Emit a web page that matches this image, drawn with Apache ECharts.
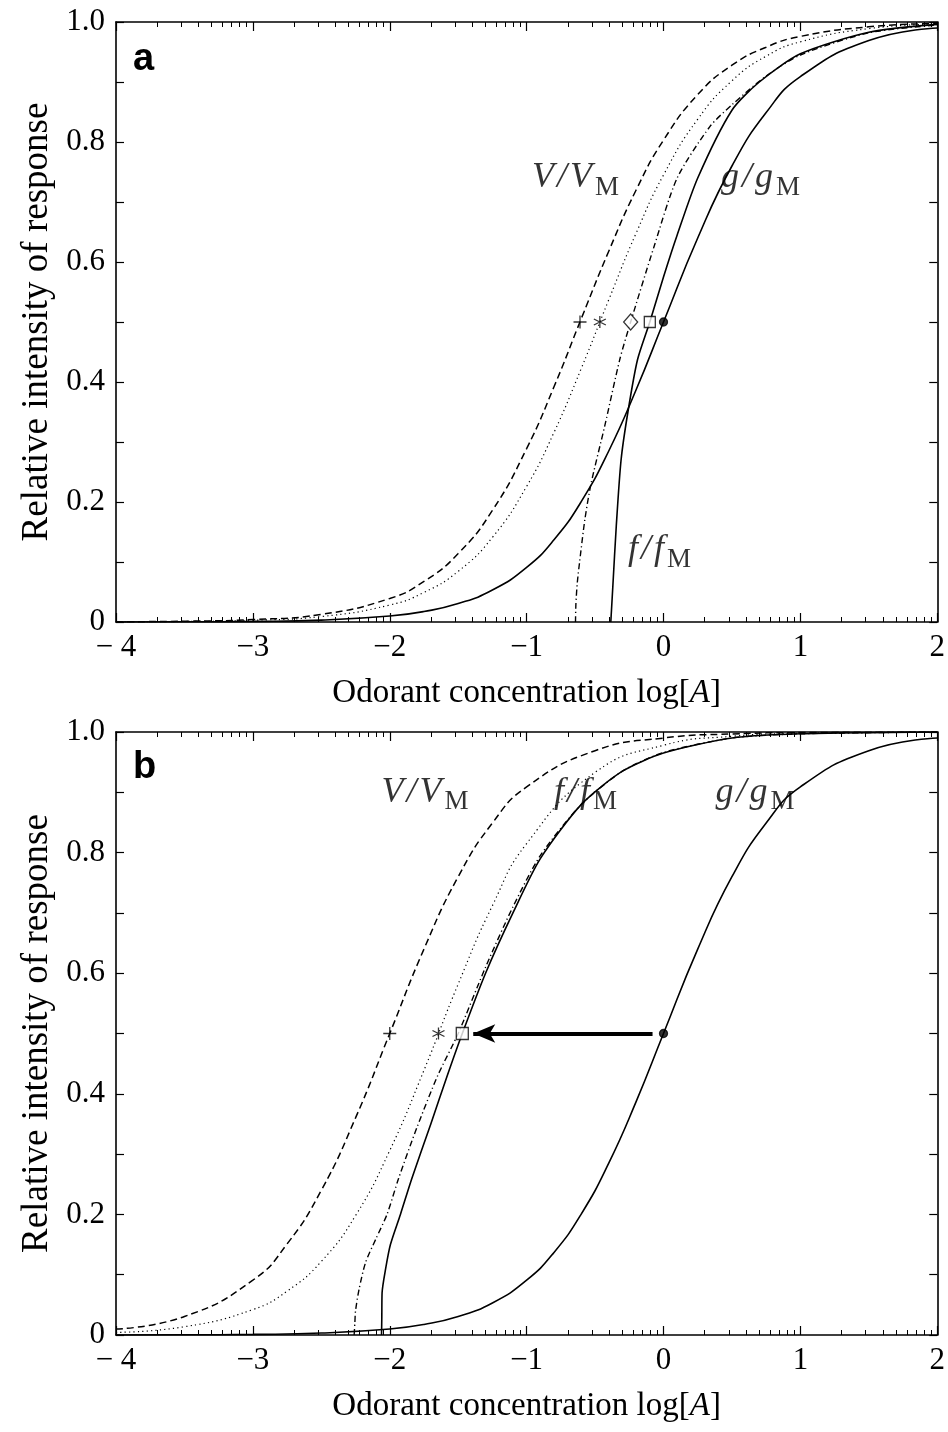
<!DOCTYPE html>
<html>
<head>
<meta charset="utf-8">
<script src="https://cdn.jsdelivr.net/npm/echarts@6/dist/echarts.min.js"></script>
<style>
html,body{margin:0;padding:0;background:#fff;}
#c{width:948px;height:1432px;}
</style>
</head>
<body>
<div id="c"></div>
<script>
// ---------- tick labels ----------
const xTickLabels = ['\u2212 4', '\u22123', '\u22122', '\u22121', '0', '1', '2'];
const yTickValues = [0, 0.2, 0.4, 0.6, 0.8, 1.0];
const yTickLabels = ['0', '0.2', '0.4', '0.6', '0.8', '1.0'];
const xTitle = 'Odorant concentration log[{i|A}]';
const yTitle = 'Relative intensity of response';

// ---------- panel a ----------
const xHill = [-4, -3.5, -3, -2.5, -2, -1.75, -1.5, -1.25, -1, -0.8, -0.6, -0.4, -0.2, 0, 0.25, 0.5, 0.75, 1, 1.5, 2];
const vA   = [0.0004, 0.0013, 0.0041, 0.0127, 0.0392, 0.0676, 0.114, 0.186, 0.289, 0.392, 0.506, 0.618, 0.720, 0.803, 0.879, 0.928, 0.958, 0.976, 0.992, 0.9975];
const dotA = [0.0003, 0.0009, 0.0029, 0.0091, 0.0283, 0.0493, 0.0845, 0.141, 0.226, 0.316, 0.423, 0.537, 0.648, 0.745, 0.838, 0.902, 0.943, 0.967, 0.989, 0.9966];
const gA   = [0.0001, 0.0003, 0.001, 0.0032, 0.0099, 0.0175, 0.0307, 0.0532, 0.0909, 0.137, 0.201, 0.285, 0.387, 0.5, 0.640, 0.760, 0.849, 0.909, 0.969, 0.990];
const dashDotA = [[-0.643, 0], [-0.64, 0.03], [-0.63, 0.065], [-0.613, 0.10], [-0.575, 0.17], [-0.53, 0.23], [-0.43, 0.326], [-0.32, 0.437], [-0.24, 0.5], [-0.07, 0.625], [0.1, 0.74], [0.34, 0.826], [0.5, 0.862], [0.75, 0.91], [1.0, 0.945], [1.5, 0.982], [2, 0.995]];
const fA = [[-0.385, 0], [-0.38, 0.02], [-0.37, 0.06], [-0.345, 0.16], [-0.31, 0.27], [-0.26, 0.35], [-0.19, 0.437], [-0.10, 0.5], [0, 0.575], [0.1, 0.645], [0.25, 0.74], [0.5, 0.853], [0.7, 0.90], [1.0, 0.947], [1.5, 0.983], [2, 0.996]];
const markPlusA = [-0.61, 0.5];
const markStarA = [-0.465, 0.5];
const markDiamondA = [-0.24, 0.5];
const markSquareA = [-0.10, 0.5];
const markDotA = [0, 0.5];

// ---------- panel b ----------
const xHillB = [-4, -3.5, -3, -2.75, -2.5, -2.25, -2, -1.75, -1.5, -1.25, -1, -0.5, 0, 0.5, 1, 2];
const vB   = [0.0099, 0.0307, 0.0909, 0.151, 0.240, 0.360, 0.5, 0.640, 0.760, 0.849, 0.909, 0.969, 0.990, 0.9968, 0.999, 0.9999];
const dotB = [0.0044, 0.0137, 0.0422, 0.0727, 0.122, 0.198, 0.306, 0.439, 0.582, 0.712, 0.815, 0.933, 0.978, 0.9929, 0.9977, 0.9998];
const gB   = [0.0001, 0.0003, 0.001, 0.0032, 0.0099, 0.0175, 0.0307, 0.0532, 0.0909, 0.137, 0.201, 0.285, 0.387, 0.5, 0.640, 0.760, 0.849, 0.909, 0.969, 0.990];
const dashDotB = [[-2.26, 0], [-2.255, 0.02], [-2.25, 0.04], [-2.225, 0.075], [-2.177, 0.12], [-2.10, 0.16], [-2.02, 0.20], [-1.935, 0.26], [-1.8, 0.345], [-1.65, 0.43], [-1.5, 0.5], [-1.3, 0.61], [-1.1, 0.71], [-0.9, 0.795], [-0.6, 0.88], [-0.3, 0.935], [0, 0.966], [0.5, 0.99], [1, 0.997], [2, 1.0]];
const fB = [[-2.06, 0], [-2.058, 0.03], [-2.056, 0.07], [-2.03, 0.11], [-1.995, 0.15], [-1.922, 0.20], [-1.838, 0.26], [-1.7, 0.35], [-1.58, 0.43], [-1.47, 0.5], [-1.3, 0.6], [-1.1, 0.7], [-0.9, 0.79], [-0.6, 0.88], [-0.3, 0.935], [0, 0.965], [0.5, 0.99], [1, 0.997], [2, 1.0]];
const markPlusB = [-2.0, 0.5];
const markStarB = [-1.644, 0.5];
const markSquareB = [-1.47, 0.5];
const markDotB = [0, 0.5];
const arrowB = [[-0.08, 0.5], [-1.39, 0.5]];

// ---------- curve labels (data coordinates of label anchors) ----------
const labelsA = [
  {text: 'V', sub: 'M', at: [-0.96, 0.77]},
  {text: 'g', sub: 'M', at: [0.42, 0.77]},
  {text: 'f', sub: 'M', at: [-0.26, 0.15]}
];
const labelsB = [
  {text: 'V', sub: 'M', at: [-2.06, 0.93]},
  {text: 'f', sub: 'M', at: [-0.80, 0.93]},
  {text: 'g', sub: 'M', at: [0.38, 0.93]}
];

// ---------- build ----------
const SERIF = '"Liberation Serif", "DejaVu Serif", serif';
const FS = 31;
const chart = echarts.init(document.getElementById('c'), null, {renderer: 'canvas'});

const minorTicks = [];
for (let d = -4; d < 2; d++) for (let k = 2; k <= 9; k++) minorTicks.push(+(d + Math.log10(k)).toFixed(4));
const yMinor = [0, 0.1, 0.2, 0.3, 0.4, 0.5, 0.6, 0.7, 0.8, 0.9, 1.0];

const grids = [
  {left: 116, right: 7, top: 22, height: 600},
  {left: 116, right: 7, top: 732, height: 603}
];
const xAxes = [], yAxes = [];
const lineCol = '#000';
grids.forEach((g, gi) => {
  xAxes.push({gridIndex: gi, type: 'value', min: -4, max: 2, interval: 1, position: 'bottom',
    name: xTitle, nameLocation: 'middle', nameGap: 55,
    nameTextStyle: {fontFamily: SERIF, fontSize: 33, color: '#000',
      rich: {i: {fontFamily: SERIF, fontSize: 33, fontStyle: 'italic', color: '#000'}}},
    axisLine: {show: true, onZero: false, lineStyle: {color: lineCol, width: 1.6}},
    axisTick: {show: true, inside: true, length: 9, lineStyle: {color: lineCol, width: 1.2}},
    axisLabel: {show: true, margin: 10, fontFamily: SERIF, fontSize: FS, color: '#000',
      formatter: v => xTickLabels[Math.round(v) + 4]},
    splitLine: {show: false}});
  xAxes.push({gridIndex: gi, type: 'value', min: -4, max: 2, position: 'bottom',
    axisLine: {show: false, onZero: false},
    axisTick: {show: true, inside: true, length: 5, customValues: minorTicks, lineStyle: {color: lineCol, width: 1}},
    axisLabel: {show: false}, splitLine: {show: false}});
  xAxes.push({gridIndex: gi, type: 'value', min: -4, max: 2, interval: 1, position: 'top',
    axisLine: {show: true, onZero: false, lineStyle: {color: lineCol, width: 1.6}},
    axisTick: {show: true, inside: true, length: 9, lineStyle: {color: lineCol, width: 1.2}},
    axisLabel: {show: false}, splitLine: {show: false}});
  xAxes.push({gridIndex: gi, type: 'value', min: -4, max: 2, position: 'top',
    axisLine: {show: false, onZero: false},
    axisTick: {show: true, inside: true, length: 5, customValues: minorTicks, lineStyle: {color: lineCol, width: 1}},
    axisLabel: {show: false}, splitLine: {show: false}});
  yAxes.push({gridIndex: gi, type: 'value', min: 0, max: 1, position: 'left',
    name: yTitle, nameLocation: 'middle', nameGap: 57, nameRotate: 90,
    nameTextStyle: {fontFamily: SERIF, fontSize: 37, color: '#000'},
    axisLine: {show: true, onZero: false, lineStyle: {color: lineCol, width: 1.6}},
    axisTick: {show: true, inside: true, length: 8, customValues: yMinor, lineStyle: {color: lineCol, width: 1.2}},
    axisLabel: {show: true, margin: 11, fontFamily: SERIF, fontSize: FS, color: '#000',
      customValues: yTickValues, formatter: v => yTickLabels[Math.round(v * 5)]},
    splitLine: {show: false}});
  yAxes.push({gridIndex: gi, type: 'value', min: 0, max: 1, position: 'right',
    axisLine: {show: true, onZero: false, lineStyle: {color: lineCol, width: 1.6}},
    axisTick: {show: true, inside: true, length: 8, customValues: yMinor, lineStyle: {color: lineCol, width: 1.2}},
    axisLabel: {show: false}, splitLine: {show: false}});
});

function zip(xs, ys) { return xs.map((x, i) => [x, ys[i]]); }
function lineSeries(gi, data, type, width, smooth) {
  return {type: 'line', xAxisIndex: gi * 4, yAxisIndex: gi * 2, data: data, showSymbol: false,
    smooth: smooth, clip: true, silent: true, animation: false,
    lineStyle: {color: '#000', width: width, type: type}};
}
const DASH = [7, 4], DOT = [1.2, 3.2], DASHDOT = [6, 3, 1.2, 3];
const plusPath = 'path://M0,5L10,5M5,0L5,10';
const starPath = 'path://M5,0L5,10M0.67,2.5L9.33,7.5M0.67,7.5L9.33,2.5';
function marker(gi, pt, symbol, size, fill) {
  return {type: 'scatter', xAxisIndex: gi * 4, yAxisIndex: gi * 2, data: [pt], symbol: symbol,
    symbolSize: size, silent: true, animation: false, z: 5,
    itemStyle: {color: fill, borderColor: '#000', borderWidth: 1.3}};
}
function labelSeries(gi, labels) {
  return {type: 'scatter', xAxisIndex: gi * 4, yAxisIndex: gi * 2, symbolSize: 0, silent: true, animation: false,
    data: labels.map(l => ({value: l.at, name: l.text, sub: l.sub})),
    label: {show: true, position: 'inside', align: 'left', verticalAlign: 'top',
      formatter: p => '{it|' + p.name + '}{sl|/}{it|' + p.name + '}{sb|' + p.data.sub + '}',
      rich: {
        it: {fontFamily: SERIF, fontStyle: 'italic', fontSize: 36, color: '#000', lineHeight: 38, verticalAlign: 'top'},
        sl: {fontFamily: SERIF, fontStyle: 'italic', fontSize: 36, color: '#000', lineHeight: 38, verticalAlign: 'top', padding: [0, 3, 0, 3]},
        sb: {fontFamily: SERIF, fontSize: 27, color: '#000', lineHeight: 29, padding: [14, 0, 0, 3], verticalAlign: 'top'}
      }}};
}

const series = [
  lineSeries(0, zip(xHill, vA), DASH, 1.5, true),
  lineSeries(0, zip(xHill, dotA), DOT, 1.2, true),
  lineSeries(0, dashDotA, DASHDOT, 1.4, 0.25),
  lineSeries(0, fA, 'solid', 1.6, 0.25),
  lineSeries(0, zip(xHill, gA), 'solid', 1.6, true),
  marker(0, markPlusA, plusPath, 13, 'none'),
  marker(0, markStarA, starPath, 12, 'none'),
  marker(0, markDiamondA, 'diamond', [14, 16], '#fff'),
  marker(0, markSquareA, 'rect', 11, '#fff'),
  marker(0, markDotA, 'circle', 8, '#000'),
  labelSeries(0, labelsA),

  lineSeries(1, zip(xHillB, vB), DASH, 1.5, true),
  lineSeries(1, zip(xHillB, dotB), DOT, 1.2, true),
  lineSeries(1, dashDotB, DASHDOT, 1.4, 0.25),
  lineSeries(1, fB, 'solid', 1.6, 0.25),
  Object.assign(lineSeries(1, zip(xHill, gB), 'solid', 1.6, true), {
    markLine: {silent: true, animation: false, symbol: ['none', 'arrow'], symbolSize: [14, 22],
      lineStyle: {color: '#000', width: 4, type: 'solid'}, label: {show: false},
      data: [[{coord: arrowB[0]}, {coord: arrowB[1]}]]}
  }),
  marker(1, markPlusB, plusPath, 13, 'none'),
  marker(1, markStarB, starPath, 12, 'none'),
  marker(1, markSquareB, 'rect', 12, '#fff'),
  marker(1, markDotB, 'circle', 8, '#000'),
  labelSeries(1, labelsB)
];

chart.setOption({
  animation: false,
  backgroundColor: '#fff',
  title: [
    {text: 'a', left: 128, top: 36, textStyle: {fontFamily: '"Liberation Sans", Arial, sans-serif', fontWeight: 'bold', fontSize: 38, color: '#000'}},
    {text: 'b', left: 128, top: 744, textStyle: {fontFamily: '"Liberation Sans", Arial, sans-serif', fontWeight: 'bold', fontSize: 38, color: '#000'}}
  ],
  grid: grids,
  xAxis: xAxes,
  yAxis: yAxes,
  series: series
});
</script>
</body>
</html>
